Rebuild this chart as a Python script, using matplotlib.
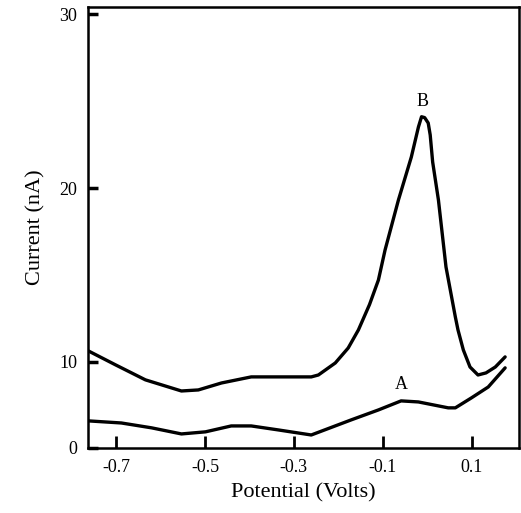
import matplotlib.pyplot as plt

# potential (V) and current readings for the two voltammograms
v_b = [-0.762, -0.701, -0.634, -0.553, -0.515, -0.463, -0.396, -0.335, -0.261,
       -0.245, -0.207, -0.178, -0.155, -0.130, -0.110, -0.095, -0.065,
       -0.036, -0.020, -0.013, -0.006, 0.002, 0.0065, 0.012,
       0.025, 0.042, 0.063, 0.069, 0.081, 0.096, 0.114, 0.132, 0.153, 0.175]
i_b = [10.63, 9.83, 8.97, 8.33, 8.39, 8.79, 9.14, 9.14, 9.14,
       9.25, 9.94, 10.80, 11.84, 13.30, 14.71, 16.44, 19.31,
       21.78, 23.51, 24.10, 24.05, 23.74, 23.05, 21.50,
       19.31, 15.46, 12.59, 11.84, 10.69, 9.71, 9.25, 9.37, 9.71, 10.29]

v_a = [-0.762, -0.688, -0.620, -0.553, -0.499, -0.441, -0.396, -0.335, -0.261,
       -0.171, -0.110, -0.059, -0.020, 0.047, 0.063, 0.099, 0.137, 0.175]
i_a = [6.61, 6.49, 6.21, 5.86, 5.98, 6.32, 6.32, 6.09, 5.80,
       6.67, 7.24, 7.76, 7.70, 7.36, 7.36, 7.93, 8.56, 9.66]

x_ticks = [-0.7, -0.5, -0.3, -0.1, 0.1]
x_labels = ["-0.7", "-0.5", "-0.3", "-0.1", "0.1"]
y_ticks = [5.06, 10, 20, 30]
y_labels = ["0", "10", "20", "30"]

plt.rcParams['font.family'] = ['Liberation Serif', 'DejaVu Serif']

fig = plt.figure(figsize=(5.21, 5.13), dpi=100)
ax = fig.add_axes([0.169, 0.127, 0.827, 0.859])

ax.plot(v_b, i_b, color='black', lw=2.4, solid_capstyle='round', solid_joinstyle='round')
ax.plot(v_a, i_a, color='black', lw=2.4, solid_capstyle='round', solid_joinstyle='round')

ax.text(-0.011, 24.5, "B", ha='center', va='bottom', fontsize=13)
ax.text(-0.059, 8.2, "A", ha='center', va='bottom', fontsize=13)

ax.set_xlim(-0.763, 0.206)
ax.set_ylim(5.06, 30.4)
ax.set_xticks(x_ticks)
ax.set_xticklabels(x_labels)
ax.set_yticks(y_ticks)
ax.set_yticklabels(y_labels)

ax.tick_params(axis='x', direction='in', length=9, width=2, pad=8, labelsize=13)
ax.tick_params(axis='y', direction='in', length=7, width=2.5, pad=8, labelsize=13)

for s in ax.spines.values():
    s.set_linewidth(1.8)

ax.set_xlabel("Potential (Volts)", fontsize=16, labelpad=5)
ax.set_ylabel("Current (nA)", fontsize=16, labelpad=10)

fig.savefig("out.png", dpi=100)
